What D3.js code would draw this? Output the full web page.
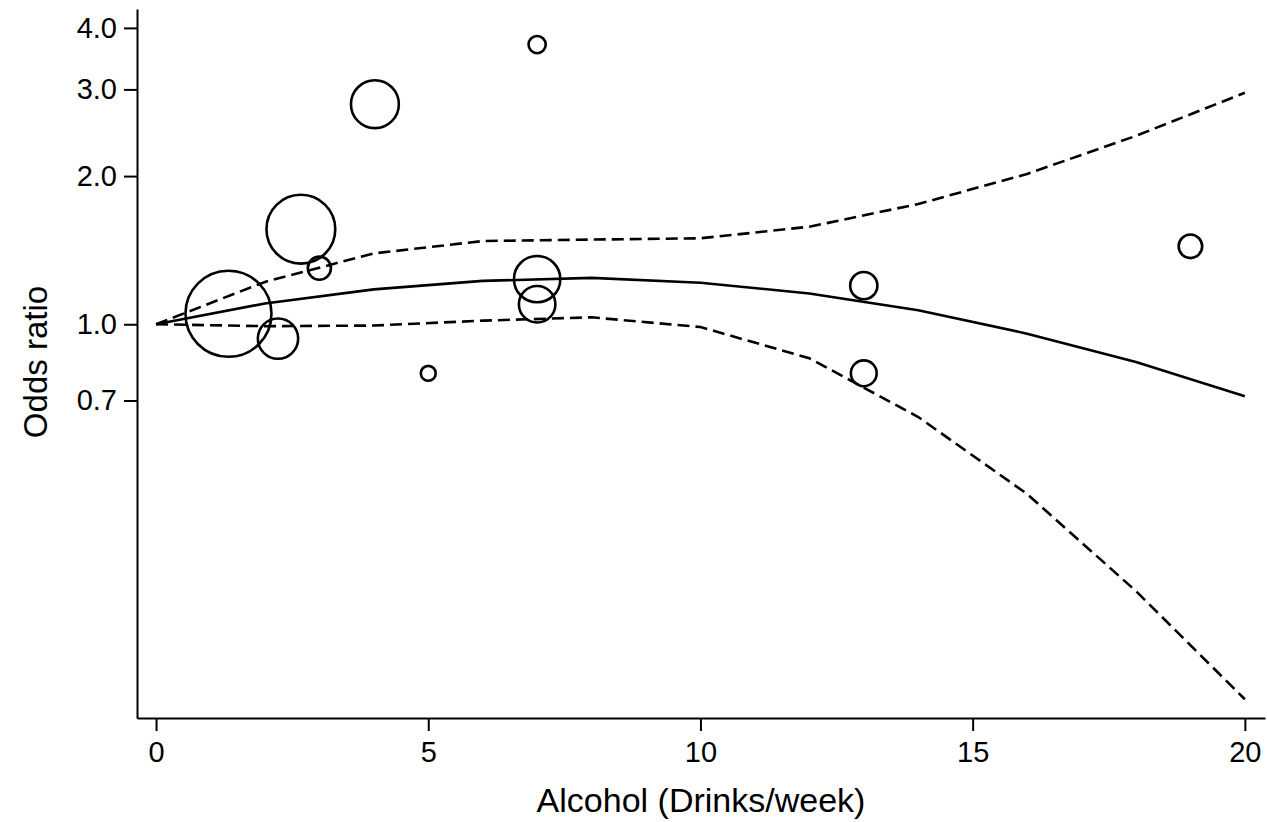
<!DOCTYPE html>
<html>
<head>
<meta charset="utf-8">
<script src="https://cdn.jsdelivr.net/npm/d3@7"></script>
<style>
  html, body { margin: 0; padding: 0; background: #fff; }
  svg { display: block; }
  text { font-family: "Liberation Sans", Arial, sans-serif; fill: #000; }
</style>
</head>
<body>
<svg id="chart" width="1267" height="822"></svg>
<script>
// ---- data ----
const curveX = [0, 2, 4, 6, 8, 10, 12, 14, 16, 18, 20];
const orEstimate = [1.0, 1.102, 1.177, 1.225, 1.242, 1.214, 1.155, 1.068, 0.957, 0.838, 0.714];
const orUpper    = [1.0, 1.219, 1.393, 1.476, 1.486, 1.495, 1.578, 1.755, 2.02, 2.414, 2.953];
const orLower    = [1.0, 0.991, 0.994, 1.017, 1.033, 0.987, 0.853, 0.648, 0.452, 0.287, 0.173];

const studyDose   = [1.33, 2.24, 2.66, 3.0, 4.02, 5.0, 7.0, 7.0, 7.0, 13.0, 13.0, 19.0];
const studyOR     = [1.05, 0.935, 1.56, 1.30, 2.80, 0.795, 3.70, 1.235, 1.098, 1.198, 0.795, 1.44];
const studyWeight = [100, 22, 64, 7.2, 31, 3.0, 4.0, 29, 18, 10, 9.0, 7.5];

const xTicks = [0, 5, 10, 15, 20];
const yTicks = [0.7, 1.0, 2.0, 3.0, 4.0];
const xTitle = "Alcohol (Drinks/week)";
const yTitle = "Odds ratio";

// ---- scales ----
const svg = d3.select("#chart");
const x = d3.scaleLinear().domain([-0.35, 20.37]).range([137, 1265]);
const y = d3.scaleLog().domain([0.1585, 4.37]).range([718, 9]);
const r = d3.scaleSqrt().domain([0, 100]).range([0, 43]);

// ---- axes ----
const xAxis = d3.axisBottom(x).tickValues(xTicks).tickFormat(d3.format("d"))
  .tickSize(13).tickSizeOuter(0).tickPadding(10);
const gx = svg.append("g").attr("transform", "translate(0,718)").call(xAxis);
gx.selectAll("text").style("font-size", "29px");

const yAxis = d3.axisLeft(y).tickValues(yTicks).tickFormat(d3.format(".1f"))
  .tickSize(13).tickSizeOuter(0).tickPadding(7);
const gy = svg.append("g").attr("transform", "translate(137,0)").call(yAxis);
gy.selectAll("text").style("font-size", "29px");

svg.selectAll(".domain, .tick line").attr("stroke", "#000").attr("stroke-width", 2);

svg.append("text").attr("x", 701).attr("y", 812).attr("text-anchor", "middle")
  .style("font-size", "34px").text(xTitle);
svg.append("text").attr("transform", "translate(47,362) rotate(-90)")
  .attr("text-anchor", "middle").style("font-size", "33px").text(yTitle);

// ---- lines ----
const mkLine = vals => d3.line().x((d, i) => x(curveX[i])).y(d => y(d))(vals);
svg.append("path").attr("d", mkLine(orUpper)).attr("fill", "none")
  .attr("stroke", "#000").attr("stroke-width", 2.6).attr("stroke-dasharray", "12,6");
svg.append("path").attr("d", mkLine(orLower)).attr("fill", "none")
  .attr("stroke", "#000").attr("stroke-width", 2.6).attr("stroke-dasharray", "12,6");
svg.append("path").attr("d", mkLine(orEstimate)).attr("fill", "none")
  .attr("stroke", "#000").attr("stroke-width", 2.6);

// ---- study circles ----
svg.append("g").selectAll("circle").data(studyDose).join("circle")
  .attr("cx", d => x(d))
  .attr("cy", (d, i) => y(studyOR[i]))
  .attr("r", (d, i) => r(studyWeight[i]))
  .attr("fill", "none").attr("stroke", "#000").attr("stroke-width", 2.6);
</script>
</body>
</html>
